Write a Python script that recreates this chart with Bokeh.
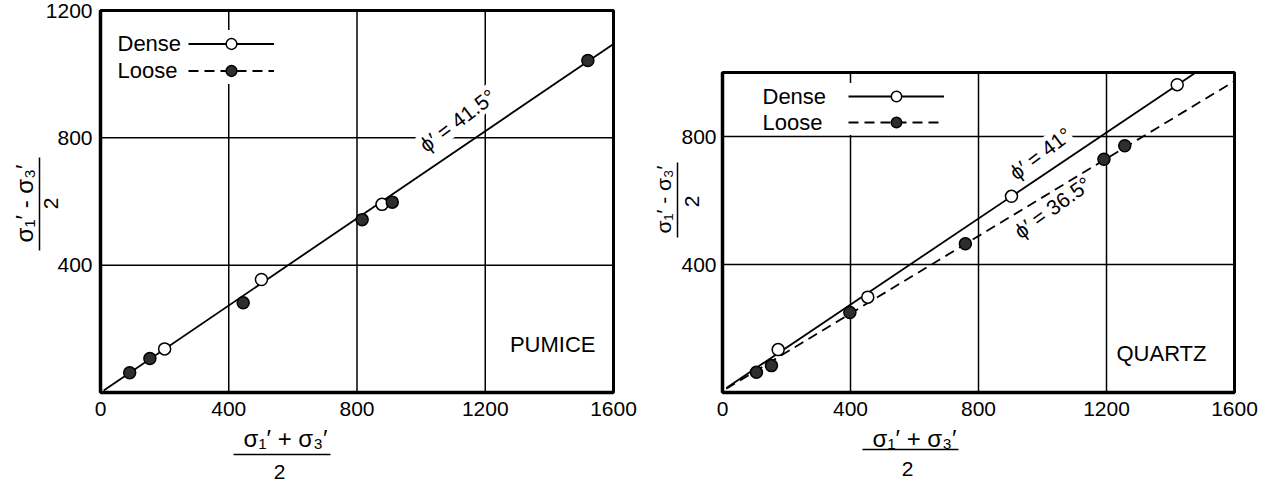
from math import radians

from bokeh.embed import file_html
from bokeh.models import (Arrow, FixedTicker, Label, Legend, LegendItem,
                          LinearAxis, Range1d)
from bokeh.plotting import figure
from bokeh.resources import INLINE

# Stress paths: p' = (σ1' + σ3')/2 on x, q' = (σ1' - σ3')/2 on y
pumice_dense_p = [200, 502, 878]
pumice_dense_q = [137, 355, 591]
pumice_loose_p = [91, 154, 445, 816, 910, 1520]
pumice_loose_q = [62, 107, 282, 543, 598, 1043]
pumice_fit_p = [10, 1600]
pumice_fit_q = [6, 1095]
pumice_phi = "41.5"

quartz_dense_p = [174, 454, 903, 1421]
quartz_dense_q = [134, 298, 613, 962]
quartz_loose_p = [106, 153, 398, 759, 1192, 1257]
quartz_loose_q = [63, 84, 250, 465, 729, 771]
quartz_dense_fit_p = [12, 1479]
quartz_dense_fit_q = [14, 1000]
quartz_loose_fit_p = [12, 1600]
quartz_loose_fit_q = [12, 973]
quartz_dense_phi = "41"
quartz_loose_phi = "36.5"

x_ticks = [0, 400, 800, 1200, 1600]
pumice_y_ticks = [400, 800, 1200]
quartz_y_ticks = [400, 800]
X_MAX = 1600
PUMICE_Y_MAX = 1200
QUARTZ_Y_MAX = 1000

# page layout (pixels from the top-left corner)
W, H = 1265, 483
BOX_P = (100, 613, 10, 392)    # left, right, top, bottom of the pumice box
BOX_Q = (722, 1234, 72, 392)   # same for the quartz box

FONT = "Liberation Sans"
FILLED = "#2e2e2e"
DASH = "10 6"
NAN = float("nan")


def ranges_for(box, xmax, ymax):
    left, right, top, bottom = box
    ux = xmax / (right - left)
    uy = ymax / (bottom - top)
    return (Range1d(-left * ux, (W - left) * ux),
            Range1d(-(H - bottom) * uy, ymax + top * uy))


xr_p, yr_p = ranges_for(BOX_P, X_MAX, PUMICE_Y_MAX)
xr_q, yr_q = ranges_for(BOX_Q, X_MAX, QUARTZ_Y_MAX)

p = figure(width=W, height=H, x_range=xr_p, y_range=yr_p,
           x_axis_type=None, y_axis_type=None, min_border=0,
           output_backend="svg", toolbar_location=None)
p.extra_x_ranges = {"q": xr_q}
p.extra_y_ranges = {"q": yr_q}
p.title.visible = False
p.outline_line_color = None
p.background_fill_color = "white"
p.border_fill_color = "white"


def rn_kw(rn):
    return {} if rn is None else {"x_range_name": rn, "y_range_name": rn}


def add_axes(ymax, y_ticks, rn, y_standoff):
    xa = LinearAxis(fixed_location=0, bounds=(0, X_MAX),
                    ticker=FixedTicker(ticks=x_ticks), **rn_kw(rn))
    ya = LinearAxis(fixed_location=0, bounds=(0, ymax),
                    ticker=FixedTicker(ticks=y_ticks), **rn_kw(rn))
    for ax in (xa, ya):
        ax.axis_line_color = "black"
        ax.axis_line_width = 3.5
        ax.major_tick_in = 0
        ax.major_tick_out = 0
        ax.minor_tick_in = 0
        ax.minor_tick_out = 0
        ax.major_label_text_font = FONT
        ax.major_label_text_font_size = "21px"
        ax.major_label_text_color = "black"
    xa.major_label_standoff = 9
    ya.major_label_standoff = y_standoff
    p.add_layout(xa, "below")
    p.add_layout(ya, "left")
    # grid lines at the tick values, limited to the box
    p.segment(x0=x_ticks, y0=[0] * len(x_ticks), x1=x_ticks, y1=[ymax] * len(x_ticks),
              line_color="black", line_width=1.5, level="image", **rn_kw(rn))
    p.segment(x0=[0] * len(y_ticks), y0=y_ticks, x1=[X_MAX] * len(y_ticks), y1=y_ticks,
              line_color="black", line_width=1.5, level="image", **rn_kw(rn))
    p.quad(left=[0], right=[X_MAX], bottom=[0], top=[ymax], fill_color=None,
           line_color="black", line_width=3, **rn_kw(rn))


def add_points(xs, ys, filled, rn=None):
    return p.scatter(xs, ys, size=12, marker="circle",
                     fill_color=FILLED if filled else "white",
                     line_color="black", line_width=1.5, **rn_kw(rn))


def add_text(cx, cy, text, size="22px", angle=0.0, align="left"):
    # cx, cy: page pixels from the top-left corner
    p.add_layout(Label(x=cx, y=H - cy, x_units="screen", y_units="screen", text=text,
                       angle=angle, text_align=align, text_baseline="middle",
                       text_font=FONT, text_font_size=size, text_color="black"))


def add_bar(cx0, cy0, cx1, cy1):
    p.add_layout(Arrow(end=None, x_start=cx0, y_start=H - cy0, x_end=cx1, y_end=H - cy1,
                       start_units="screen", end_units="screen",
                       line_color="black", line_width=1.5))


def add_phi(cx, cy, text, angle_deg):
    p.add_layout(Label(x=cx, y=H - cy, x_units="screen", y_units="screen", text=text,
                       angle=radians(angle_deg), text_align="center", text_baseline="middle",
                       text_font=FONT, text_font_size="21px", text_color="black",
                       background_fill_color="white", level="underlay"))


def add_legend(dense_renderers, loose_renderers, left, bottom, glyph_w, glyph_h):
    legend = Legend(items=[LegendItem(label=" ", renderers=dense_renderers),
                           LegendItem(label=" ", renderers=loose_renderers)],
                    location=(left, H - bottom), orientation="vertical",
                    glyph_width=glyph_w, glyph_height=glyph_h,
                    label_standoff=0, label_width=0, label_height=0,
                    label_text_font_size="1px", padding=0, margin=0, spacing=0,
                    border_line_color=None, background_fill_color="white",
                    background_fill_alpha=1.0)
    p.add_layout(legend)


# ---- PUMICE ----
add_axes(PUMICE_Y_MAX, pumice_y_ticks, None, 8)
fit1 = p.line(pumice_fit_p, pumice_fit_q, line_color="black", line_width=1.8)
# dashed key for the loose series (no line of its own in this panel)
loose_key1 = p.line([NAN], [NAN], line_color="black", line_width=1.8, line_dash=DASH)
d1 = add_points(pumice_dense_p, pumice_dense_q, filled=False)
l1 = add_points(pumice_loose_p, pumice_loose_q, filled=True)
add_legend([fit1, d1], [loose_key1, l1], left=188, bottom=83.5, glyph_w=86, glyph_h=27)
add_text(117, 43, "Dense")
add_text(117, 70, "Loose")
add_phi(457, 120, f"ϕ′ = {pumice_phi}°", 37)
add_text(595, 344, "PUMICE", align="right")
add_text(24, 203, "σ₁′ - σ₃′", size="24px", angle=radians(90), align="center")
add_bar(39, 250, 39, 157)
add_text(50, 203, "2", size="21px", angle=radians(90), align="center")
add_text(285, 438, "σ₁′ + σ₃′", size="24px", align="center")
add_bar(233, 454, 330, 454)
add_text(279, 471, "2", size="21px", align="center")

# ---- QUARTZ ----
add_axes(QUARTZ_Y_MAX, quartz_y_ticks, "q", 6)
fit2d = p.line(quartz_dense_fit_p, quartz_dense_fit_q, line_color="black", line_width=1.8,
               **rn_kw("q"))
fit2l = p.line(quartz_loose_fit_p, quartz_loose_fit_q, line_color="black", line_width=1.8,
               line_dash=DASH, **rn_kw("q"))
d2 = add_points(quartz_dense_p, quartz_dense_q, filled=False, rn="q")
l2 = add_points(quartz_loose_p, quartz_loose_q, filled=True, rn="q")
add_legend([fit2d, d2], [fit2l, l2], left=848, bottom=135, glyph_w=96, glyph_h=26)
add_text(762, 96, "Dense")
add_text(762, 122, "Loose")
add_phi(1040, 153, f"ϕ′ = {quartz_dense_phi}°", 37)
add_phi(1052, 207, f"ϕ′ = {quartz_loose_phi}°", 36)
add_text(1206, 353, "QUARTZ", align="right")
add_text(663, 199, "σ₁′ - σ₃′", size="21px", angle=radians(90), align="center")
add_bar(677, 237, 677, 162)
add_text(691, 201, "2", size="21px", angle=radians(90), align="center")
add_text(914, 438, "σ₁′ + σ₃′", size="24px", align="center")
add_bar(862, 449, 958, 449)
add_text(907, 468, "2", size="21px", align="center")

open("out.html", "w").write(file_html(p, INLINE))
